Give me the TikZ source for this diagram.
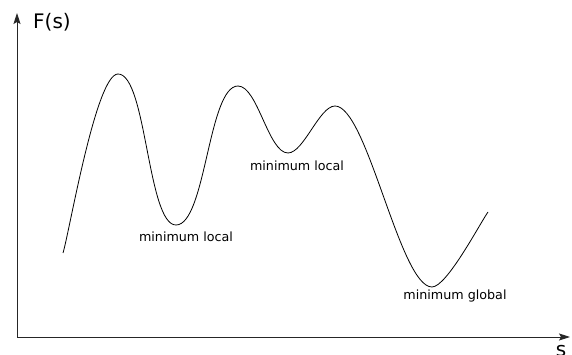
\documentclass[tikz,border=0pt]{standalone}
\usepackage{fontspec}
\setmainfont{DejaVu Sans}
\usetikzlibrary{arrows.meta}
\begin{document}
\begin{tikzpicture}[
  x=1pt, y=1pt,
  axis/.style={-{Stealth[length=11pt,width=7pt,inset=2pt]}, line width=0.9pt, black!85},
  curve/.style={line width=0.8pt, looseness=0.45},
  label/.style={font=\fontsize{12.7}{14}\selectfont, inner sep=0pt},
  axislabel/.style={font=\fontsize{20}{22}\selectfont, inner sep=0pt}
]
\useasboundingbox (0,0) rectangle (572,355);

% axes
\coordinate (O) at (17,18);
\coordinate (ytop) at (17,342);
\coordinate (xend) at (570,18);
\draw[axis] (O) -- (ytop);
\draw[axis] (O) -- (xend);
\node[axislabel, anchor=west] (Fs) at (33,333) {F(s)};
\node[axislabel, anchor=north] (s) at (561,10) {s};

% landscape
\coordinate (a) at (63,102);
\coordinate (p1) at (118,281);
\coordinate (m1) at (176,130);
\coordinate (p2) at (238,269);
\coordinate (m2) at (288,202);
\coordinate (p3) at (335,249);
\coordinate (m3) at (432,68);
\coordinate (b) at (488,143);
\draw[curve] (a) to[out=73,in=180,looseness=0.3] (p1)
  to[out=0,in=180] (m1)
  to[out=0,in=180,looseness=0.5] (p2)
  to[out=0,in=180,looseness=0.6] (m2)
  to[out=0,in=180,looseness=0.6] (p3)
  to[out=0,in=180,looseness=0.4] (m3)
  to[out=0,in=235,looseness=0.4] (b);

\node[label] (min1) at (186,118) {minimum local};
\node[label] (min2) at (297,189) {minimum local};
\node[label] (min3) at (455,59) {minimum global};

\end{tikzpicture}
\end{document}
